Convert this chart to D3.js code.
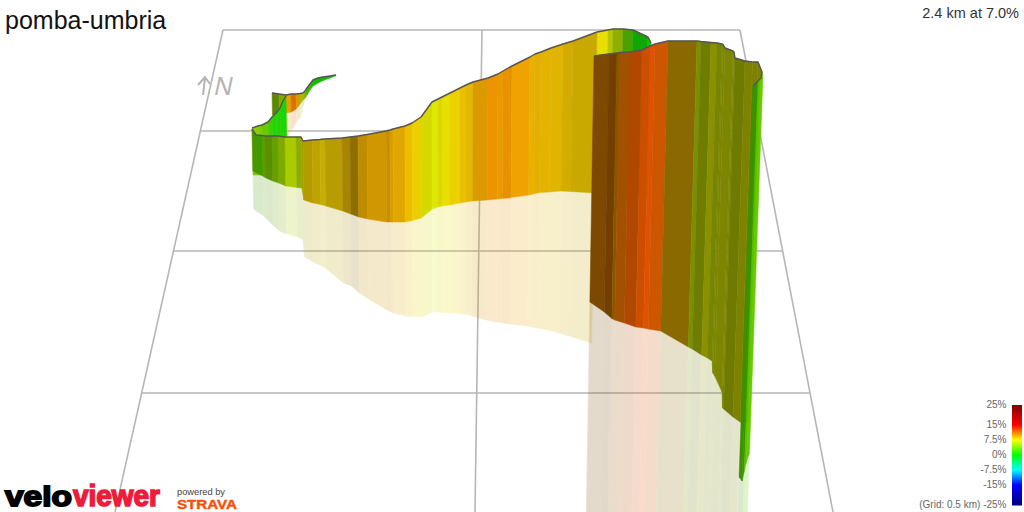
<!DOCTYPE html>
<html><head><meta charset="utf-8">
<script src="https://cdn.jsdelivr.net/npm/d3@7"></script>
<style>html,body{margin:0;padding:0;background:#fff;overflow:hidden}svg{display:block}text{font-family:"Liberation Sans",Arial,sans-serif}</style>
</head><body><div id="c"></div>
<script>
// ---- data: ground position (m), view distance of ridge / foot / reflection end (m), gradient (%), facet lighting ----
const legendTicks = [25, 15, 7.5, 0, -7.5, -15, -25];
const legendLabels = ["25%", "15%", "7.5%", "0%", "-7.5%", "-15%", "(Grid: 0.5 km) -25%"];
const legendColours = ["#800000", "#ff0000", "#ffff00", "#00ff00", "#00ffff", "#0000ff", "#00007f"];

const gridRowDist = [60, 262, 502, 786];
const gridColFar = [446, 964, 1480];
const gridColNear = [230, 950, 1666];

const thinX = [606,610,614,620,626,636,646,660,672];
const thinTop = [186,182,176,168,160,156,154,152,150];
const thinFoot = [200,196,190,180,172,166,161,156,151];
const thinDrop = [212,200,190,180,172,166,161,156,151];
const thinGrade = [6,4,2.5,1.5,1,0.8,0.6,0.5];
const thinLight = [.72,.72,.72,.72,.72,.72,.75,.75];

const hookX = [544,558,572,582,592,600,606];
const hookTop = [186,188,190,188,188,187,186];
const hookFoot = [230,228,226,224,218,208,200];
const hookDrop = [230,228,274,260,244,234,212];
const hookGrade = [5.2,5.7,9.9,11.1,10,6.85];
const hookLight = [.53,.66,.91,.85,.88,.72];

const curlX = [504,516,524,536,544,552,560,566,572];
const curlTop = [256,252,250,244,234,226,216,202,192];
const curlFoot = [350,350,350,350,350,350,350,350,350];
const curlGrade = [5.2,4.7,3.75,2.5,1.2,1.2,1,1];
const curlLight = [.8,.8,.8,.8,.83,.83,.83,.83];

const climbX = [504,512,524,530,544,556,570,592,602,606,624,640,650,684,700,716,734,772,780,786,810,824,842,864,876,884,900,920,932,946,976,996,1006,1020,1024,1060,1070,1082,1102,1126,1146,1194];
const climbTop = [258,270,271,272,272,272,274,274,274,282,280,279,278,276,274,272,269,262,260,258,252,246,234,204,198,194,186,176,170,164,156,148,142,134,132,114,108,104,96,88,82,64];
const climbFoot = [342,346,352,356,362,366,372,375,376,400,406,409,412,422,428,434,438,444,444,444,444,441,436,418,414,412,410,406,404,402,400,398,397,396,395,390,388,385,384,382,383,386];
const climbDrop = [418,424,432,438,452,462,468,474,478,514,524,532,538,566,572,586,598,620,624,626,632,633,634,624,624,625,626,627,628,632,640,644,645,648,648,652,654,656,660,666,672,686];
const climbGrade = [3.9,3.1,4.4,4.7,5,5.6,6.2,6.3,7.5,8.5,8.6,8.4,8.6,9.1,9.2,9.5,9.6,9.6,9.6,9.4,8.9,8.5,7.4,7.2,7.5,7.8,8.4,8.8,8.9,9.75,10.3,10,10.3,10.2,9.9,9.3,9.2,9.1,9,8.9,8.7];
const climbLight = [.58,.6,.61,.56,.62,.67,.8,.67,.63,.7,.75,.78,.72,.66,.56,.75,.82,.78,.85,.88,.92,.93,.85,.91,.85,.91,.93,.91,.89,.86,.93,.91,.91,.88,.94,.91,.89,.89,.88,.83,.79];

const ridgeX = [1194,1216,1226,1246,1266,1296,1302];
const ridgeTop = [64,60,58,58,60,74,86];
const ridgeFoot = [390,390,390,390,390,390,390];
const ridgeGrade = [7.7,7,6.1,3.5,0.7,0.4];
const ridgeLight = [.9,.78,.69,.63,.66,.8];

const wallX = [1188,1218,1234,1240,1260,1284,1300,1310,1336,1394,1402,1422,1434,1444,1446,1450,1466,1468,1470,1490,1505];
const wallTop = [112,108,106,105,104,100,92,88,82,82,83,85,86,88,89,96,102,104,116,122,124];
const wallFoot = [604,624,637,640,646,654,656,658,662,694,698,710,716,722,746,752,784,816,818,834,844];
const wallDrop = [1060,1060,1060,1060,1060,1060,1060,1060,1060,1060,1060,1060,1060,1060,1060,1060,1060,1060,1060,1060,1060];
const wallGrade = [10.65,10.9,10.4,11.25,11.9,12.1,12.3,11.8,9.2,6.35,6.6,7.2,6.7,6.7,7,7,7,7,6.8,7.2];
const wallLight = [.49,.45,.54,.63,.69,.8,.88,.8,.54,.565,.49,.565,.52,.52,.525,.525,.525,.525,.48,.51];

const foldX = [1505,1516,1524,1522,1506];
const foldTop = [124,124,144,156,172];
const foldFoot = [844,844,844,844,844];
const foldGrade = [7.2,7.2,7.2,7.2];
const foldLight = [.51,.51,.51,.51];

const edgeX = [1505,1512,1516,1520,1526];
const edgeTop = [174,168,164,158,148];
const edgeFoot = [954,962,942,924,906];
const edgeDrop = [1060,1060,1060,1060,1060];
const edgeGrade = [3.3,2.5,3.6,3.75];
const edgeLight = [.56,.6,.75,.8];

// ---- scales ----
const W = 1024, H = 512;
const xs = d3.scaleLinear().domain([0, 2048]).range([0, W]);
const ys = d3.scaleLinear().domain([0, 1024]).range([0, H]);
const gradeColour = d3.scaleLinear().domain(legendTicks).range(legendColours).clamp(true);
const legendY = d3.scaleLinear().domain(legendTicks).range([405, 425, 440, 455, 470, 485, 505]);
const nadir = {x: 444, y: 9000};      // vertical lines of the 3D view converge here

const svg = d3.select("#c").append("svg").attr("width", W).attr("height", H);

function lit(grade, light) {
  const c = d3.rgb(gradeColour(grade));
  return d3.rgb(c.r * light, c.g * light, c.b * light).formatHex();
}
const lean = (px, pyTop, py) => px + (nadir.x - px) * (py - pyTop) / (nadir.y - pyTop);

// ---- grid ----
const gridG = svg.append("g").attr("stroke", "#b6b6b6").attr("stroke-width", 1.6).attr("fill", "none");
const colAt = (i, dist) => {
  const far = gridColFar[i], near = gridColNear[i];
  return far + (near - far) * (dist - gridRowDist[0]) / (1024 - gridRowDist[0]);
};
gridG.selectAll("line.row").data(gridRowDist).join("line").attr("class", "row")
  .attr("x1", d => xs(colAt(0, d))).attr("x2", d => xs(colAt(2, d)))
  .attr("y1", d => ys(d)).attr("y2", d => ys(d));
gridG.selectAll("line.col").data(gridColFar).join("line").attr("class", "col")
  .attr("x1", d => xs(d)).attr("y1", ys(gridRowDist[0]))
  .attr("x2", (d, i) => xs(gridColNear[i])).attr("y2", H);

// north marker
const north = svg.append("g").attr("fill", "none").attr("stroke", "#b4b4b4").attr("stroke-width", 2);
north.append("path").attr("d", "M203,95L205,78M198,85L205,77L210,84");
svg.append("text").attr("transform", "translate(213,94.5) skewX(-12) scale(1,1.05)").attr("font-size", 25).attr("fill", "#b4b4b4").text("N");

// ---- ribbons ----
function ribbon(X, Top, Foot, Drop, Grade, Light) {
  const n = Grade.length;
  const g = svg.append("g");
  const idx = d3.range(n);
  const px = i => xs(X[i]), top = i => ys(Top[i]);
  const poly = (i, a, b) => {
    const ya0 = ys(a[i]), ya1 = ys(a[i + 1]);
    const yb0 = ys(b[i]), yb1 = ys(b[i + 1]);
    return d3.line()([
      [lean(px(i), top(i), ya0), ya0],
      [lean(px(i + 1), top(i + 1), ya1), ya1],
      [lean(px(i + 1), top(i + 1), yb1), yb1],
      [lean(px(i), top(i), yb0), yb0]
    ]) + "Z";
  };
  if (Drop) {
    g.append("g").attr("opacity", 0.2).selectAll("path").data(idx).join("path")
      .attr("d", i => poly(i, Foot, Drop))
      .attr("fill", i => lit(Grade[i], Light[i]))
      .attr("stroke", i => lit(Grade[i], Light[i]))
      .attr("stroke-width", 0.5);
  }
  g.append("g").selectAll("path").data(idx).join("path")
    .attr("d", i => poly(i, Top, Foot))
    .attr("fill", i => lit(Grade[i], Light[i]))
    .attr("stroke", i => lit(Grade[i], Light[i]))
    .attr("stroke-width", 0.5);
  return () => svg.append("path")
    .attr("d", d3.line()(X.map((v, i) => [xs(v), ys(Top[i])])))
    .attr("fill", "none").attr("stroke", "#555").attr("stroke-width", 1.4)
    .attr("stroke-linejoin", "round");
}

ribbon(thinX, thinTop, thinFoot, thinDrop, thinGrade, thinLight)();
ribbon(hookX, hookTop, hookFoot, hookDrop, hookGrade, hookLight)();
ribbon(curlX, curlTop, curlFoot, null, curlGrade, curlLight)();
ribbon(ridgeX, ridgeTop, ridgeFoot, null, ridgeGrade, ridgeLight)();
ribbon(climbX, climbTop, climbFoot, climbDrop, climbGrade, climbLight)();
const wallLine = ribbon(wallX, wallTop, wallFoot, wallDrop, wallGrade, wallLight);
const foldLine = ribbon(foldX, foldTop, foldFoot, null, foldGrade, foldLight);
ribbon(edgeX, edgeTop, edgeFoot, edgeDrop, edgeGrade, edgeLight);
wallLine(); foldLine();

// ---- legend ----
const barSteps = d3.range(-25, 25, 0.5);
svg.append("g").selectAll("rect").data(barSteps).join("rect")
  .attr("x", 1012).attr("width", 10)
  .attr("y", d => legendY(d + 0.5)).attr("height", d => legendY(d) - legendY(d + 0.5) + 0.5)
  .attr("fill", d => gradeColour(d));
svg.append("g").selectAll("text").data(legendTicks).join("text")
  .attr("x", 1006.5).attr("y", d => legendY(d) + 3).attr("text-anchor", "end")
  .attr("font-size", 10).attr("fill", "#666").text((d, i) => legendLabels[i]);

// ---- titles ----
svg.append("text").attr("x", 5).attr("y", 29).attr("font-size", 25).attr("fill", "#111").text("pomba-umbria");
svg.append("text").attr("x", 1019).attr("y", 18).attr("text-anchor", "end").attr("font-size", 14.5).attr("fill", "#333").text("2.4 km at 7.0%");

// ---- logos ----
svg.append("text").attr("x", 5).attr("y", 506).attr("font-size", 28).attr("font-weight", 700)
  .attr("textLength", 67).attr("lengthAdjust", "spacingAndGlyphs")
  .attr("fill", "#000").attr("stroke", "#000").attr("stroke-width", 1.8).text("velo");
svg.append("text").attr("x", 73).attr("y", 505.5).attr("font-size", 30).attr("font-weight", 700)
  .attr("textLength", 87).attr("lengthAdjust", "spacingAndGlyphs")
  .attr("fill", "#ee1c3a").attr("stroke", "#ee1c3a").attr("stroke-width", 1.6).text("viewer");
svg.append("text").attr("x", 177).attr("y", 495).attr("font-size", 9).attr("fill", "#444")
  .attr("textLength", 48).attr("lengthAdjust", "spacingAndGlyphs").text("powered by");
svg.append("text").attr("x", 177).attr("y", 509).attr("font-size", 13.5).attr("font-weight", 700).attr("fill", "#fc4c02")
  .attr("stroke", "#fc4c02").attr("stroke-width", 0.4)
  .attr("textLength", 60).attr("lengthAdjust", "spacingAndGlyphs").text("STRAVA");
</script></body></html>
